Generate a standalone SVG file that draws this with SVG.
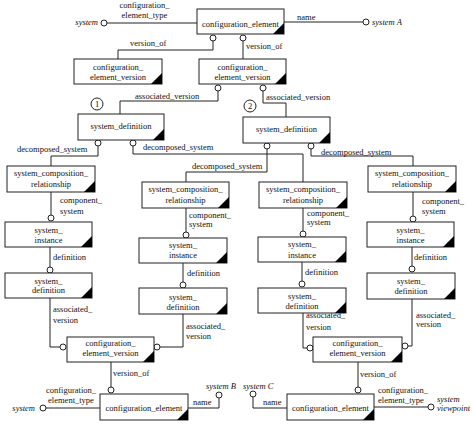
<svg xmlns="http://www.w3.org/2000/svg" width="474" height="424" viewBox="0 0 474 424">
<style>
text{font-family:"Liberation Serif","Times New Roman",serif;font-size:8.5px;fill:#111}
.c{text-anchor:middle}
.e{text-anchor:end}
.i{font-style:italic}
.box{fill:#fff;stroke:#222;stroke-width:1}
.tri{fill:#000}
.ln{fill:none;stroke:#222;stroke-width:1}
.o{fill:#fff;stroke:#222;stroke-width:1}
</style>
<rect width="474" height="424" fill="#fff"/>
<g id="connectors">
<path class="ln" d="M107,23H197"/><circle class="o" cx="104" cy="23" r="3"/>
<text class="c" x="144.5" y="8">configuration_</text><text class="c" x="144.5" y="18">element_type</text>
<text class="i e" x="98" y="25">system</text>
<path class="ln" d="M284,22H363"/><circle class="o" cx="366" cy="22" r="3"/>
<text x="297" y="20">name</text><text class="i" x="372" y="25">system A</text>
<path class="ln" d="M213,41V50H118V59"/><circle class="o" cx="213" cy="38" r="3"/>
<text x="130" y="46">version_of</text>
<path class="ln" d="M243,41V59"/><circle class="o" cx="243" cy="38" r="3"/>
<text x="246" y="49">version_of</text>
<path class="ln" d="M218,91V101H120V114"/><circle class="o" cx="218" cy="88" r="3"/>
<text x="135" y="99">associated_version</text>
<path class="ln" d="M263,91V103H286V117"/><circle class="o" cx="263" cy="88" r="3"/>
<text x="266" y="100">associated_version</text>
<circle class="o" cx="97" cy="104" r="6"/><text class="c" x="97" y="107">1</text>
<circle class="o" cx="250" cy="106" r="6"/><text class="c" x="250" y="109">2</text>
<path class="ln" d="M98,146V156H51V166"/><circle class="o" cx="98" cy="143" r="3"/>
<text x="17" y="152">decomposed_system</text>
<path class="ln" d="M133,146V154H303V182"/><circle class="o" cx="133" cy="143" r="3"/>
<text x="143" y="150">decomposed_system</text>
<path class="ln" d="M267,149V172H186V182"/><circle class="o" cx="267" cy="146" r="3"/>
<text x="192" y="169">decomposed_system</text>
<path class="ln" d="M311,149V156H413V166"/><circle class="o" cx="311" cy="146" r="3"/>
<text x="321" y="155">decomposed_system</text>
<path class="ln" d="M51,192V215"/><circle class="o" cx="51" cy="218" r="3"/>
<text x="60" y="203">component_</text><text x="60" y="214">system</text>
<path class="ln" d="M186,208V232"/><circle class="o" cx="186" cy="235" r="3"/>
<text x="189" y="218">component_</text><text x="189" y="227">system</text>
<path class="ln" d="M303,208V231"/><circle class="o" cx="303" cy="234" r="3"/>
<text x="307" y="216">component_</text><text x="307" y="225">system</text>
<path class="ln" d="M413,192V216"/><circle class="o" cx="413" cy="219" r="3"/>
<text x="422" y="204">component_</text><text x="422" y="214">system</text>
<path class="ln" d="M50,247V267"/><circle class="o" cx="50" cy="270" r="3"/>
<text x="53" y="260">definition</text>
<path class="ln" d="M183,263V282"/><circle class="o" cx="183" cy="285" r="3"/>
<text x="187" y="276">definition</text>
<path class="ln" d="M302,262V281"/><circle class="o" cx="302" cy="284" r="3"/>
<text x="305" y="275">definition</text>
<path class="ln" d="M412,247V266"/><circle class="o" cx="412" cy="269" r="3"/>
<text x="414" y="260">definition</text>
<path class="ln" d="M50,298V347H60"/><circle class="o" cx="63" cy="347" r="3"/>
<text x="53" y="312">associated_</text><text x="53" y="323">version</text>
<path class="ln" d="M183,314V347H160"/><circle class="o" cx="157" cy="347" r="3"/>
<text x="186" y="329">associated_</text><text x="186" y="339">version</text>
<path class="ln" d="M303,313V348H307"/><circle class="o" cx="310" cy="348" r="3"/>
<text x="306" y="318">associated_</text><text x="306" y="330">version</text>
<path class="ln" d="M412,299V346H408"/><circle class="o" cx="405" cy="346" r="3"/>
<text x="416" y="318">associated_</text><text x="416" y="327">version</text>
<path class="ln" d="M111,362V387"/><circle class="o" cx="111" cy="390" r="3"/>
<text x="113" y="376">version_of</text>
<path class="ln" d="M358,362V387"/><circle class="o" cx="358" cy="390" r="3"/>
<text x="360" y="377">version_of</text>
<path class="ln" d="M46,408H100"/><circle class="o" cx="43" cy="408" r="3"/>
<text class="i e" x="35" y="411">system</text>
<text class="c" x="71" y="393">configuration_</text><text class="c" x="71" y="403">element_type</text>
<path class="ln" d="M188,408H219V398"/><circle class="o" cx="219" cy="395" r="3"/>
<text x="193" y="405">name</text><text class="i" x="206" y="389">system B</text>
<path class="ln" d="M287,408H253V397"/><circle class="o" cx="253" cy="394" r="3"/>
<text x="263" y="405">name</text><text class="i" x="243" y="389">system C</text>
<path class="ln" d="M374,407H428"/><circle class="o" cx="431" cy="407" r="3"/>
<text x="378" y="393">configuration_</text><text x="378" y="403">element_type</text>
<text class="i" x="437" y="402">system</text><text class="i" x="437" y="411">viewpoint</text>
</g>
<g id="ce_top"><rect class="box" x="197" y="9" width="87" height="25"/><polygon class="tri" points="273,34 284,34 284,23"/><text class="c" x="240.5" y="27">configuration_element</text></g>
<g id="cev_l"><rect class="box" x="74" y="59" width="88" height="25"/><polygon class="tri" points="151,84 162,84 162,73"/><text class="c" x="118" y="70">configuration_</text><text class="c" x="118" y="80">element_version</text></g>
<g id="cev_r"><rect class="box" x="199" y="59" width="87" height="25"/><polygon class="tri" points="275,84 286,84 286,73"/><text class="c" x="242.5" y="70">configuration_</text><text class="c" x="242.5" y="80">element_version</text></g>
<g id="sd_1"><rect class="box" x="78" y="114" width="86" height="26"/><polygon class="tri" points="153,140 164,140 164,129"/><text class="c" x="121" y="129">system_definition</text></g>
<g id="sd_2"><rect class="box" x="243" y="117" width="87" height="26"/><polygon class="tri" points="319,143 330,143 330,132"/><text class="c" x="286.5" y="132">system_definition</text></g>
<g id="scr_1"><rect class="box" x="7" y="166" width="88" height="26"/><polygon class="tri" points="84,192 95,192 95,181"/><text class="c" x="51" y="176">system_composition_</text><text class="c" x="51" y="187">relationship</text></g>
<g id="scr_2"><rect class="box" x="142" y="182" width="87" height="26"/><polygon class="tri" points="218,208 229,208 229,197"/><text class="c" x="185.5" y="192">system_composition_</text><text class="c" x="185.5" y="203">relationship</text></g>
<g id="scr_3"><rect class="box" x="259" y="182" width="88" height="26"/><polygon class="tri" points="336,208 347,208 347,197"/><text class="c" x="303" y="192">system_composition_</text><text class="c" x="303" y="203">relationship</text></g>
<g id="scr_4"><rect class="box" x="368" y="166" width="88" height="26"/><polygon class="tri" points="445,192 456,192 456,181"/><text class="c" x="412" y="176">system_composition_</text><text class="c" x="412" y="187">relationship</text></g>
<g id="si_1"><rect class="box" x="5" y="222" width="87" height="25"/><polygon class="tri" points="81,247 92,247 92,236"/><text class="c" x="48.5" y="233">system_</text><text class="c" x="48.5" y="243">instance</text></g>
<g id="si_2"><rect class="box" x="139" y="238" width="88" height="25"/><polygon class="tri" points="216,263 227,263 227,252"/><text class="c" x="183" y="248">system_</text><text class="c" x="183" y="258">instance</text></g>
<g id="si_3"><rect class="box" x="258" y="237" width="88" height="25"/><polygon class="tri" points="335,262 346,262 346,251"/><text class="c" x="302" y="247">system_</text><text class="c" x="302" y="258">instance</text></g>
<g id="si_4"><rect class="box" x="367" y="222" width="87" height="25"/><polygon class="tri" points="443,247 454,247 454,236"/><text class="c" x="410.5" y="233">system_</text><text class="c" x="410.5" y="243">instance</text></g>
<g id="sd_c1"><rect class="box" x="5" y="273" width="87" height="25"/><polygon class="tri" points="81,298 92,298 92,287"/><text class="c" x="48.5" y="284">system_</text><text class="c" x="48.5" y="293">definition</text></g>
<g id="sd_c2"><rect class="box" x="139" y="288" width="88" height="26"/><polygon class="tri" points="216,314 227,314 227,303"/><text class="c" x="183" y="300">system_</text><text class="c" x="183" y="310">definition</text></g>
<g id="sd_c3"><rect class="box" x="258" y="288" width="88" height="25"/><polygon class="tri" points="335,313 346,313 346,302"/><text class="c" x="302" y="299">system_</text><text class="c" x="302" y="309">definition</text></g>
<g id="sd_c4"><rect class="box" x="367" y="273" width="88" height="26"/><polygon class="tri" points="444,299 455,299 455,288"/><text class="c" x="411" y="284">system_</text><text class="c" x="411" y="294">definition</text></g>
<g id="cev_bl"><rect class="box" x="67" y="337" width="87" height="25"/><polygon class="tri" points="143,362 154,362 154,351"/><text class="c" x="110.5" y="346">configuration_</text><text class="c" x="110.5" y="356">element_version</text></g>
<g id="cev_br"><rect class="box" x="313" y="337" width="89" height="25"/><polygon class="tri" points="391,362 402,362 402,351"/><text class="c" x="357.5" y="346">configuration_</text><text class="c" x="357.5" y="356">element_version</text></g>
<g id="ce_bl"><rect class="box" x="100" y="394" width="88" height="26"/><polygon class="tri" points="177,420 188,420 188,409"/><text class="c" x="144" y="411">configuration_element</text></g>
<g id="ce_br"><rect class="box" x="287" y="394" width="87" height="26"/><polygon class="tri" points="363,420 374,420 374,409"/><text class="c" x="330.5" y="411">configuration_element</text></g>
</svg>
